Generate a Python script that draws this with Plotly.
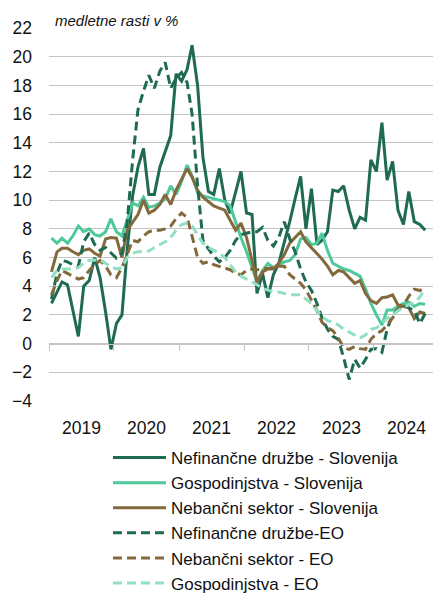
import plotly.graph_objects as go

# monthly data, Jan 2019 - Oct 2024 (year-on-year growth, %)
months = [f"{y}-{m:02d}-15" for y in range(2019, 2025) for m in range(1, 13)][:70]

nefin_si = [2.8, 3.6, 4.3, 4.1, 2.3, 0.5, 4.0, 4.4, 6.0, 4.6, 2.2, -0.4,
            1.4, 2.0, 6.5, 10.3, 12.3, 13.6, 10.4, 10.4, 12.3, 13.4, 14.5, 18.8,
            18.3, 19.1, 20.8, 18.0, 13.0, 10.6, 10.4, 12.2, 10.0, 9.1, 10.6, 12.0,
            9.1, 9.0, 3.5, 4.9, 3.2, 4.8, 5.6, 7.0, 8.5, 10.1, 11.65, 8.0,
            10.8, 6.9, 7.2, 7.8, 10.7, 10.6, 11.0, 9.3, 8.0, 8.8, 8.6, 12.8,
            12.0, 15.4, 11.4, 12.7, 9.3, 8.3, 10.6, 8.5, 8.3, 7.9]

gosp_si = [7.35, 7.0, 7.35, 7.0, 7.5, 8.2, 7.8, 8.0, 7.6, 7.5, 7.8, 8.7,
           7.8, 7.5, 8.6, 9.8, 9.6, 10.2, 9.5, 9.6, 9.8, 10.1, 11.0, 10.4,
           11.3, 12.45, 11.7, 10.5, 10.3, 10.2, 10.1, 10.0, 9.9, 9.6, 8.4, 7.4,
           6.4, 5.3, 4.3, 5.1, 5.6, 5.3, 5.5, 5.7, 5.8, 6.2, 7.3, 7.4,
           6.9, 7.0, 7.7, 6.5, 5.6, 5.4, 5.2, 5.1, 4.9, 4.7, 3.8, 2.8,
           2.0, 1.3, 2.35, 2.35, 2.6, 2.8, 2.9, 2.6, 2.8, 2.75]

nebanc_si = [5.0, 6.4, 6.65, 6.65, 6.4, 6.2, 6.5, 6.6, 6.3, 6.1, 7.3, 7.4,
             7.35, 6.0, 7.9, 8.45, 9.0, 10.0, 9.1, 9.3, 9.7, 10.4, 9.7, 10.7,
             11.4, 12.2, 11.6, 10.7, 10.2, 9.9, 9.6, 9.45, 9.3, 8.6, 7.9, 8.4,
             7.4, 5.8, 4.3, 5.0, 5.2, 5.2, 5.6, 6.2, 7.0, 7.4, 7.8, 7.1,
             6.7, 6.3, 5.9, 5.4, 4.8, 5.1, 5.0, 4.6, 4.2, 4.4, 3.5, 3.0,
             2.8, 3.2, 3.25, 3.4, 2.7, 2.6, 2.5, 1.75, 2.2, 2.1]

nefin_eo = [3.1, 4.9, 5.8, 5.7, 5.5, 5.4, 7.1, 7.7, 6.9, 6.5, 6.7, 6.3,
            5.95, 6.3, 8.4, 12.8, 16.3, 17.6, 18.7, 17.8, 19.0, 19.6, 17.8, 18.5,
            18.9, 18.2, 16.0, 11.0, 7.2, 6.6, 6.1, 5.7, 6.0, 6.5, 7.2, 7.6,
            7.7, 7.8, 7.8, 8.1, 7.2, 6.8, 7.4, 8.5, 7.3, 6.4, 5.2, 4.3,
            3.7, 2.8, 1.8, 1.0, 0.5, 0.3, -1.0, -2.5, -1.1, -1.7, -1.1, -0.4,
            -0.35, -0.6, 1.0, 2.0, 2.4, 2.7, 2.5, 2.3, 1.4, 2.1]

nebanc_eo = [3.4, 4.4, 5.1, 4.9, 4.7, 4.5, 4.6, 5.1, 5.5, 5.8, 5.4, 4.8,
             4.6, 5.3, 6.2, 7.2, 7.1, 7.5, 7.8, 7.9, 7.9, 8.0, 8.2, 8.7,
             9.1, 8.8, 7.5, 6.0, 5.6, 5.7, 5.5, 5.4, 5.3, 5.15, 4.9, 4.8,
             5.1, 5.2, 5.15, 5.2, 5.25, 5.3, 5.4, 5.4, 4.8, 4.5, 4.2, 3.75,
             3.0, 2.3, 1.5, 1.1, 0.9, 0.4, -0.3, -0.4, -0.2, -0.35, -0.4, 0.3,
             0.7, 0.9, 1.3, 1.8, 2.4, 2.7, 3.3, 3.8, 3.7, 3.9]

gosp_eo = [4.6, 5.1, 5.2, 5.2, 5.2, 5.3, 5.6, 5.8, 5.8, 5.85, 5.6, 5.35,
           5.2, 5.3, 6.0, 6.3, 6.4, 6.4, 6.45, 6.7, 6.9, 7.1, 7.4, 7.9,
           8.3, 8.4, 8.2, 7.6, 7.0, 6.7, 6.5, 6.3, 6.0, 5.5, 5.0, 4.7,
           4.5, 4.3, 4.1, 3.85, 3.7, 3.6, 3.6, 3.5, 3.4, 3.4, 3.4, 3.1,
           2.8, 2.3, 1.9, 1.6, 1.5, 1.3, 1.0, 0.8, 0.6, 0.4, 0.6, 1.0,
           1.1, 1.4, 1.75, 2.0, 2.3, 2.55, 2.7, 2.85, 3.25, 3.85]

names = ["Nefinančne družbe - Slovenija", "Gospodinjstva - Slovenija",
         "Nebančni sektor - Slovenija", "Nefinančne družbe-EO",
         "Nebančni sektor - EO", "Gospodinjstva - EO"]
series = [nefin_si, gosp_si, nebanc_si, nefin_eo, nebanc_eo, gosp_eo]
colors = ["#1E6B52", "#4DC99A", "#83693B", "#1E6B52", "#83693B", "#93DFC4"]
dashes = ["solid", "solid", "solid", "9px,5px", "9px,5px", "9px,5px"]

FONT = "Liberation Sans, Arial, sans-serif"
GRID = "#C4C4C4"

fig = go.Figure()
for name, vals, col, dsh in zip(names, series, colors, dashes):
    fig.add_trace(go.Scatter(x=months, y=vals, name=name, mode="lines",
                             line=dict(color=col, width=3, dash=dsh)))

# helper trace so the crossing axis at y=0 gets drawn
fig.add_trace(go.Scatter(x=[months[0], months[-1]], y=[None, None], xaxis="x2",
                         showlegend=False, hoverinfo="skip", mode="lines"))

x_range = ["2019-01-01", "2024-11-28"]

fig.update_layout(
    width=433, height=594,
    margin=dict(l=49, r=0, t=28, b=193, autoexpand=False),
    paper_bgcolor="white", plot_bgcolor="white",
    font=dict(family=FONT, size=17.5, color="#111111"),
    showlegend=True,
    legend=dict(x=0.1536, y=-0.1045, xanchor="left", yanchor="top",
                font=dict(family=FONT, size=17, color="#111111"),
                itemwidth=53, bgcolor="rgba(0,0,0,0)", tracegroupgap=0),
    xaxis=dict(type="date", range=x_range, tick0="2019-01-01", dtick="M12",
               tickformat="%Y", ticklabelmode="period", ticks="",
               showgrid=False, showline=False, zeroline=False,
               ticklabelstandoff=14, automargin=False,
               tickfont=dict(family=FONT, size=17.5, color="#111111")),
    xaxis2=dict(type="date", range=x_range, overlaying="x", anchor="free",
                position=4 / 26, matches="x", tick0="2019-01-01", dtick="M12",
                ticks="outside", ticklen=6, tickcolor=GRID, tickwidth=1,
                showticklabels=False, showgrid=False, showline=True,
                linecolor=GRID, linewidth=1, zeroline=False, automargin=False),
    yaxis=dict(range=[-4, 22], dtick=2, tick0=0, showgrid=True,
               gridcolor=GRID, gridwidth=1, zeroline=False, showline=False,
               ticks="", ticklabelstandoff=16, automargin=False,
               tickfont=dict(family=FONT, size=17.5, color="#111111")),
    annotations=[dict(text="<i>medletne rasti v %</i>", xref="paper", yref="paper",
                      x=0.01, y=0.992, xanchor="left", yanchor="bottom",
                      showarrow=False,
                      font=dict(family=FONT, size=15, color="#111111"))],
)

fig.write_html("out.html",
               config={"displayModeBar": False},
               post_script="document.body.style.margin='0px';"
                           "document.body.style.overflow='hidden';")
